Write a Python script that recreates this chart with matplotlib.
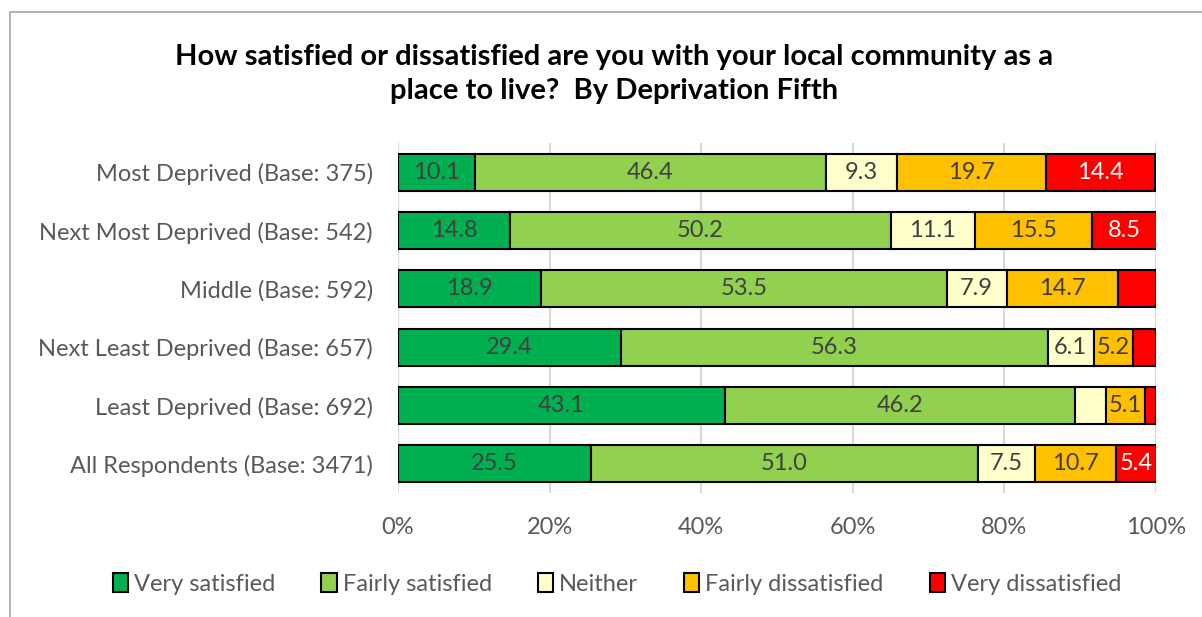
import matplotlib.pyplot as plt
from matplotlib.patches import Rectangle
import numpy as np

plt.rcParams['font.family'] = ['Lato', 'DejaVu Sans']

categories = ["Most Deprived (Base: 375)",
              "Next Most Deprived (Base: 542)",
              "Middle (Base: 592)",
              "Next Least Deprived (Base: 657)",
              "Least Deprived (Base: 692)",
              "All Respondents (Base: 3471)"]

series_names = ["Very satisfied", "Fairly satisfied", "Neither",
                "Fairly dissatisfied", "Very dissatisfied"]

very_satisfied = [10.1, 14.8, 18.9, 29.4, 43.1, 25.5]
fairly_satisfied = [46.4, 50.2, 53.5, 56.3, 46.2, 51.0]
neither = [9.3, 11.1, 7.9, 6.1, 4.1, 7.5]
fairly_dissatisfied = [19.7, 15.5, 14.7, 5.2, 5.1, 10.7]
very_dissatisfied = [14.4, 8.5, 5.0, 3.0, 1.5, 5.4]

# which segments get a printed label (small ones are left blank), one list per series
show_label = [
    [True, True, True, True, True, True],
    [True, True, True, True, True, True],
    [True, True, True, True, False, True],
    [True, True, True, True, True, True],
    [True, True, False, False, False, True],
]

colors = ["#00B050", "#92D050", "#FFFFCC", "#FFC000", "#FF0000"]
text_colors = ["#404040", "#404040", "#404040", "#404040", "#FFFFFF"]

values = [very_satisfied, fairly_satisfied, neither, fairly_dissatisfied, very_dissatisfied]

fig = plt.figure(figsize=(12.02, 6.17), dpi=100)
ax = fig.add_axes([398 / 1202, 1 - 493 / 617, 758 / 1202, 350 / 617])

y = np.arange(len(categories))
left = np.zeros(len(categories))
for i, (name, vals) in enumerate(zip(series_names, values)):
    vals = np.array(vals)
    ax.barh(y, vals, left=left, height=0.63, color=colors[i], edgecolor="black",
            linewidth=1.5, label=name, zorder=3)
    for j, v in enumerate(vals):
        if show_label[i][j]:
            ax.text(left[j] + v / 2, y[j], f"{v:.1f}", ha="center", va="center",
                    fontsize=17, color=text_colors[i], zorder=4)
    left += vals

ax.set_xlim(0, 100)
ax.set_ylim(len(categories) - 0.5, -0.5)
ax.set_xticks(np.arange(0, 101, 20))
ax.set_xticklabels([f"{t}%" for t in range(0, 101, 20)])
ax.set_yticks(y)
ax.set_yticklabels(categories)
ax.tick_params(axis="x", length=0, pad=17, labelsize=17, labelcolor="#595959")
ax.tick_params(axis="y", length=0, pad=18, labelsize=17, labelcolor="#595959")
ax.grid(axis="x", color="#D9D9D9", linewidth=1.5, zorder=0)
for s in ax.spines.values():
    s.set_visible(False)

fig.text(614 / 1202, 1 - 74 / 617,
         "How satisfied or dissatisfied are you with your local community as a\nplace to live?  By Deprivation Fifth",
         ha="center", va="center", fontsize=21, fontweight="bold", color="black",
         linespacing=1.4)

leg = fig.legend(loc="center", bbox_to_anchor=(617 / 1202, 1 - 584 / 617), ncol=5,
                 frameon=False, fontsize=17, handlelength=0.65, handleheight=0.85,
                 handletextpad=0.25, columnspacing=1.95)
for t in leg.get_texts():
    t.set_color("#595959")

fig.patches.append(Rectangle((10 / 1202, -0.1), 1.2, 1 - 12 / 617 + 0.1,
                             transform=fig.transFigure, fill=False,
                             edgecolor="#A6A6A6", linewidth=1.2))

fig.savefig("out.png", dpi=100)
